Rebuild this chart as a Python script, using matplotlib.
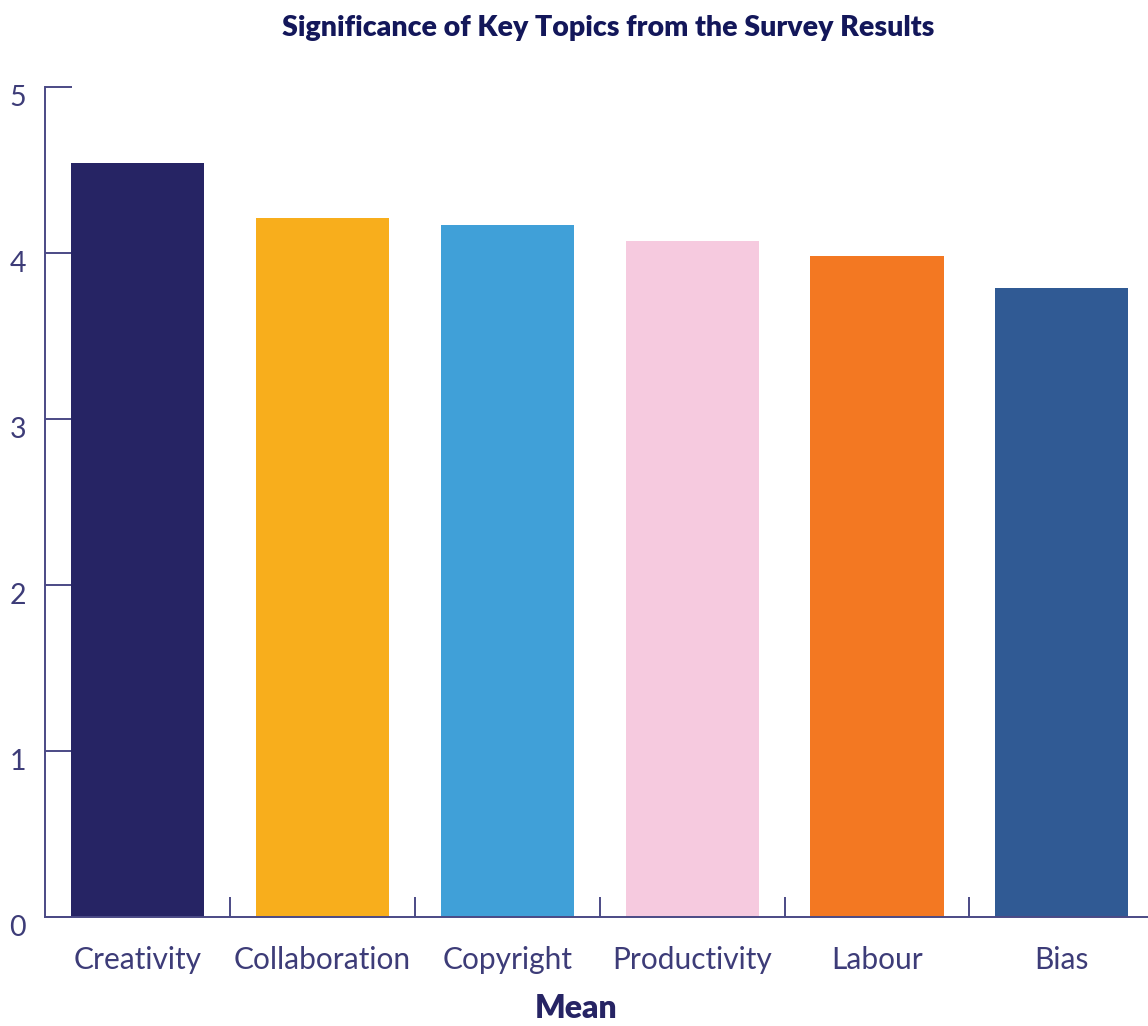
import matplotlib.pyplot as plt
import matplotlib.transforms as mtransforms
import numpy as np

topics = ["Creativity", "Collaboration", "Copyright", "Productivity", "Labour", "Bias"]
means = [4.54, 4.21, 4.17, 4.07, 3.98, 3.79]
colors = ["#262464", "#F8AE1C", "#40A0D8", "#F6CADF", "#F37822", "#305A94"]

axis_col = "#4b4a85"
text_col = "#3d3c78"
navy = "#13175a"

plt.rcParams['font.family'] = ['Lato', 'DejaVu Sans']

fig = plt.figure(figsize=(11.48, 10.26), dpi=100)
ax = fig.add_axes([45 / 1148, 109 / 1026, 1 - 45 / 1148, 830 / 1026])

x = np.arange(len(topics))
ax.bar(x, means, width=0.72, color=colors, zorder=3)

ax.set_xlim(-0.5, 5.466)
ax.set_ylim(0, 5)

for s in ["top", "right"]:
    ax.spines[s].set_visible(False)
for s in ["left", "bottom"]:
    ax.spines[s].set_color(axis_col)
    ax.spines[s].set_linewidth(1.4)
    ax.spines[s].set_zorder(4)

ax.set_xticks(x)
ax.set_xticklabels(topics)
ax.set_xticks(np.arange(0.5, 5, 1), minor=True)
ax.tick_params(axis="x", which="major", length=0, pad=21, labelsize=21.5, labelcolor=text_col)
ax.tick_params(axis="x", which="minor", direction="in", length=14.4, width=1.4, color=axis_col)

ax.set_yticks(range(6))
ax.tick_params(axis="y", direction="in", length=19.4, width=1.4, color=axis_col,
               pad=13.5, labelsize=20.5, labelcolor=text_col)
offset = mtransforms.ScaledTranslation(0, -0.09, fig.dpi_scale_trans)
for lbl in ax.get_yticklabels():
    lbl.set_transform(lbl.get_transform() + offset)

fig.text(576 / 1148, 1 - 1018 / 1026, "Mean", ha="center", va="baseline",
         fontsize=23, fontweight="heavy", color="#262464")
fig.text(0.53, 0.9727, "Significance of Key Topics from the Survey Results",
         ha="center", va="center", fontsize=20.5, fontweight="heavy", color=navy)

fig.savefig("out.png", dpi=100)
